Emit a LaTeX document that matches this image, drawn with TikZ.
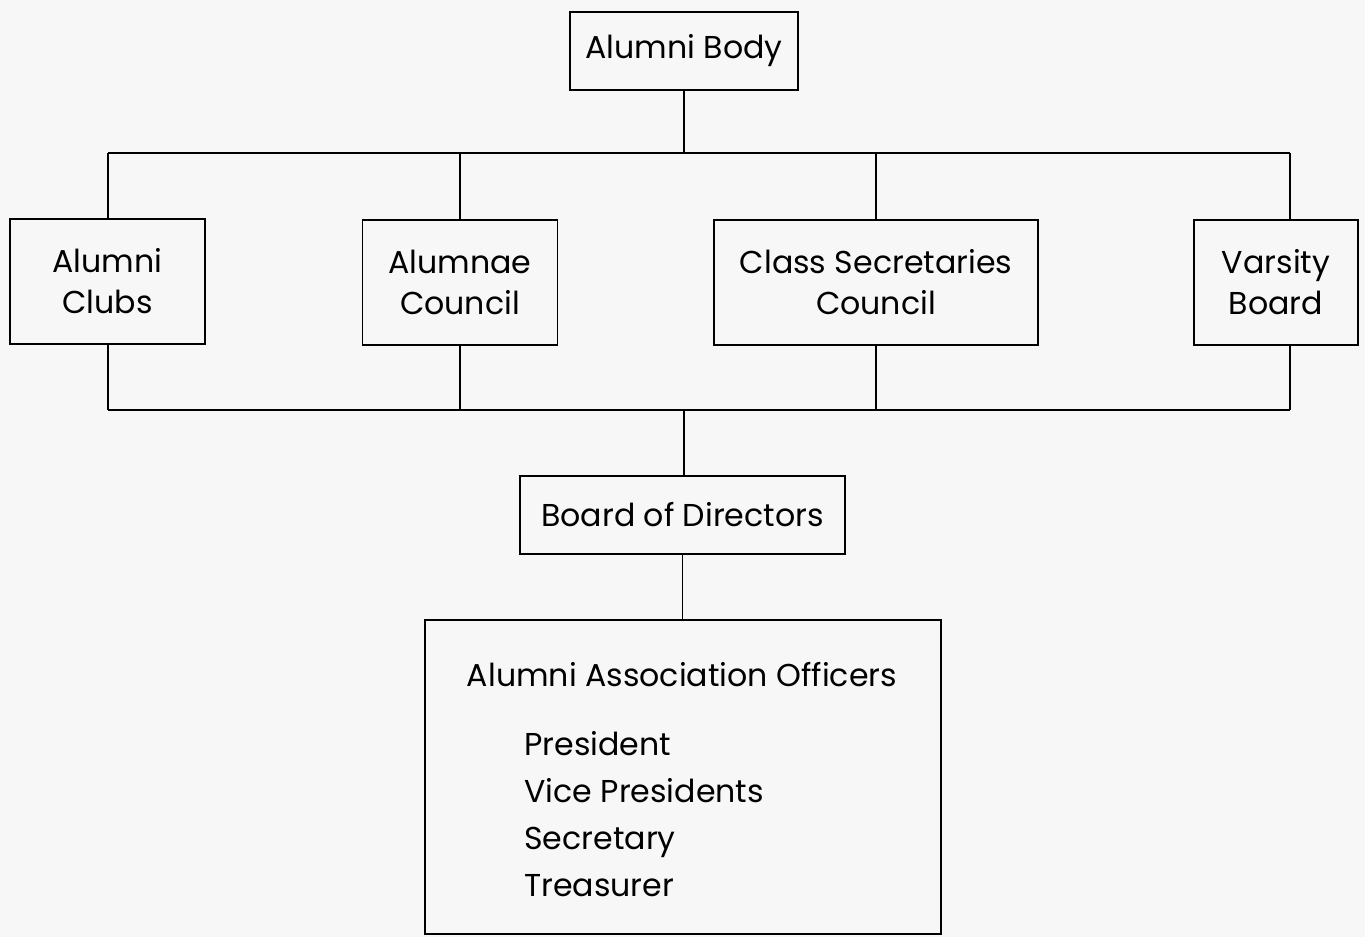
\documentclass[tikz,border=0pt]{standalone}
\usepackage{fontspec}
\setmainfont{Poppins}
\tikzset{
  box/.style={draw, line width=1.1pt, align=center, inner sep=0pt,
    font=\fontsize{18}{23.3}\selectfont},
  wire/.style={line width=1.1pt}
}
\begin{document}
\begin{tikzpicture}[x=0.02cm,y=-0.02cm]
   % page
   \fill[gray!6] (0,0) rectangle (1365,937);
   % boxes
   \node[box,minimum width=4.56cm,minimum height=1.56cm] (body) at (684,51) {Alumni Body};
   \node[box,minimum width=3.9cm,minimum height=2.5cm] (clubs) at (107.5,281.5) {Alumni\\Clubs};
   \node[box,minimum width=3.9cm,minimum height=2.5cm] (alumnae) at (460,282.5) {Alumnae\\Council};
   \node[box,minimum width=6.48cm,minimum height=2.5cm] (classsec) at (876,282.5) {Class Secretaries\\Council};
   \node[box,minimum width=3.28cm,minimum height=2.5cm] (varsity) at (1276,282.5) {Varsity\\Board};
   \node[box,minimum width=6.5cm,minimum height=1.56cm] (board) at (682.5,515) {Board of Directors};
   \node[box,minimum width=10.32cm,minimum height=6.28cm] (officers) at (683,777) {};
   \node[font=\fontsize{18}{23.3}\selectfont,anchor=base] (title) at (682,686) {Alumni Association Officers};
   \node[font=\fontsize{18}{26.7}\selectfont,anchor=north west,align=left,inner sep=0pt] (list) at (524,731) {President\\Vice Presidents\\Secretary\\Treasurer};
   % upper bus
   \coordinate (tb) at (684,153);
   \coordinate (tl) at (108,153);
   \coordinate (tr) at (1290,153);
   \draw[wire] (body.south) -- (tb);
   \draw[wire] (tl) -- (tr);
   \draw[wire] (tl) -- (tl |- clubs.north);
   \draw[wire] (alumnae.north |- tb) -- (alumnae.north);
   \draw[wire] (classsec.north |- tb) -- (classsec.north);
   \draw[wire] (tr) -- (tr |- varsity.north);
   % lower bus
   \coordinate (bb) at (684,410);
   \coordinate (bl) at (108,410);
   \coordinate (br) at (1290,410);
   \draw[wire] (bl) -- (br);
   \draw[wire] (bl) -- (bl |- clubs.south);
   \draw[wire] (alumnae.south) -- (alumnae.south |- bb);
   \draw[wire] (classsec.south) -- (classsec.south |- bb);
   \draw[wire] (br) -- (br |- varsity.south);
   \draw[wire] (bb) -- (bb |- board.north);
   \draw[wire] (board.south) -- (board.south |- officers.north);
\end{tikzpicture}
\end{document}
